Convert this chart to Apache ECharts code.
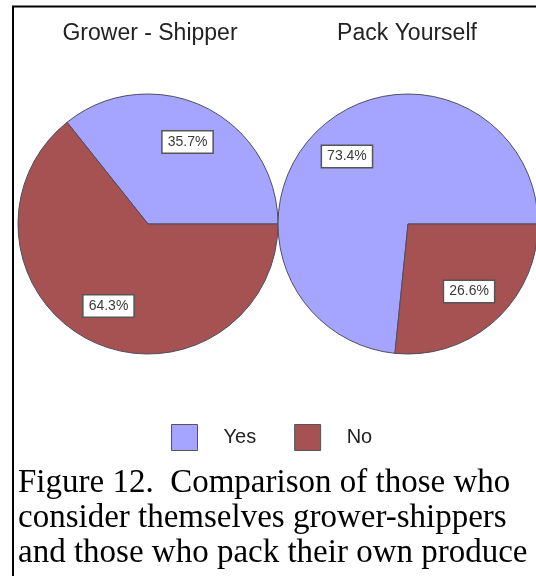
<!DOCTYPE html>
<html>
<head>
<meta charset="utf-8">
<script src="https://cdn.jsdelivr.net/npm/echarts@6/dist/echarts.min.js"></script>
<style>
html,body{margin:0;padding:0;background:#fff;}
#chart{width:536px;height:576px;}
</style>
</head>
<body>
<div id="chart"></div>
<script>
const categories = ['Yes', 'No'];
const growerShipper = [35.7, 64.3];
const packYourself = [73.4, 26.6];
const pieTitles = ['Grower - Shipper', 'Pack Yourself'];
const captionLines = [
  'Figure 12.  Comparison of those who',
  'consider themselves grower-shippers',
  'and those who pack their own produce'
];

const colors = ['#a5a5ff', '#a65152'];
const chart = echarts.init(document.getElementById('chart'));

function toData(vals) {
  return categories.map((c, i) => ({ name: c, value: vals[i] }));
}

const centers = [[148, 224], [408, 224]];
const R = 130;
const sets = [growerShipper, packYourself];

const series = [];
sets.forEach((vals, k) => {
  series.push({
    type: 'pie',
    center: centers[k],
    radius: [0, R],
    startAngle: 0,
    clockwise: false,
    silent: true,
    animation: false,
    itemStyle: { borderColor: '#4e4e60', borderWidth: 1 },
    label: { show: false },
    labelLine: { show: false },
    emphasis: { disabled: true },
    data: toData(vals)
  });
});
sets.forEach((vals, k) => {
  series.push({
    type: 'pie',
    center: centers[k],
    radius: [46, R],
    startAngle: 0,
    clockwise: false,
    silent: true,
    animation: false,
    legendHoverLink: false,
    itemStyle: { color: 'rgba(0,0,0,0)', borderWidth: 0 },
    label: {
      show: true,
      position: 'inside',
      formatter: p => p.value.toFixed(1) + '%',
      fontFamily: 'Liberation Sans, Arial, sans-serif',
      fontSize: 14,
      color: '#3a3a3a',
      backgroundColor: '#ffffff',
      borderColor: '#555555',
      borderWidth: 1.5,
      padding: [4, 5, 3, 5]
    },
    labelLine: { show: false },
    emphasis: { disabled: true },
    data: toData(vals)
  });
});

const graphics = [
  {
    type: 'rect',
    shape: { x: 13, y: 6.5, width: 700, height: 700 },
    style: { fill: 'none', stroke: '#000', lineWidth: 2 },
    silent: true
  }
];
pieTitles.forEach((t, k) => {
  graphics.push({
    type: 'text',
    x: [150, 407][k],
    y: 34,
    style: {
      text: t,
      font: '23px "Liberation Sans", Arial, sans-serif',
      fill: '#222',
      textAlign: 'center',
      textVerticalAlign: 'middle',
      align: 'center',
      verticalAlign: 'middle'
    },
    silent: true
  });
});
captionLines.forEach((t, i) => {
  graphics.push({
    type: 'text',
    x: 18,
    y: 483 + i * 35,
    style: {
      text: t,
      font: '33px "Liberation Serif", "Times New Roman", serif',
      fill: '#000',
      textAlign: 'left',
      textVerticalAlign: 'middle',
      align: 'left',
      verticalAlign: 'middle'
    },
    silent: true
  });
});

chart.setOption({
  animation: false,
  backgroundColor: '#ffffff',
  color: colors,
  legend: {
    data: categories,
    left: 166,
    top: 419,
    icon: 'rect',
    itemWidth: 26,
    itemHeight: 26,
    itemGap: 38,
    selectedMode: false,
    itemStyle: { borderColor: '#555', borderWidth: 1 },
    textStyle: {
      fontFamily: 'Liberation Sans, Arial, sans-serif',
      fontSize: 20,
      color: '#222',
      padding: [0, 0, 0, 21]
    }
  },
  series: series,
  graphic: graphics
});
</script>
</body>
</html>
